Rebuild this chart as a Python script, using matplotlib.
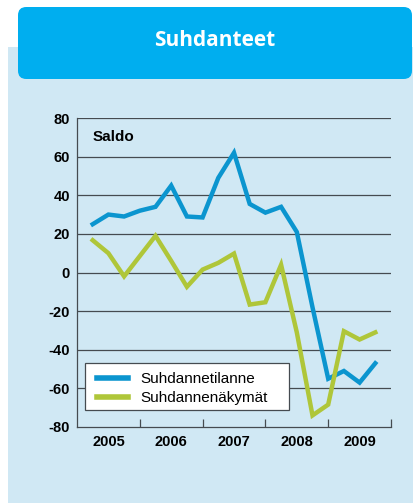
import numpy as np
import matplotlib.pyplot as plt
from matplotlib.patches import FancyBboxPatch, Rectangle

# Data: quarterly saldo, 2005Q1 .. 2009Q3
vuodet = ["2005", "2006", "2007", "2008", "2009"]
suhdannetilanne = [25, 30, 29, 32, 34, 45, 29, 28.5, 49, 62,
                   35.5, 31, 34, 21, -18, -55, -51, -57, -47]
suhdannenakymat = [16.7, 10, -2, 8.5, 19, 6, -7.4, 1.5, 5, 9.8,
                   -16.6, -15.4, 4, -31, -74, -68.4, -30.4, -34.7, -31]
y_ticks = [80, 60, 40, 20, 0, -20, -40, -60, -80]

sininen = "#0b95cf"
vihrea = "#afc639"
paneeli = "#d0e8f4"
harmaa = "#454b50"

plt.rcParams['font.family'] = ['Liberation Sans', 'DejaVu Sans']

fig = plt.figure(figsize=(4.14, 5.03), dpi=100)
W, H = 414, 503

# taustapaneeli ja otsikkolaatikko
fig.patches.append(Rectangle((8 / W, 0), 1, 1 - 47 / H, transform=fig.transFigure,
                             facecolor=paneeli, edgecolor="none", zorder=-3))
fig.patches.append(FancyBboxPatch((18 / W, 1 - 79 / H), (412 - 18) / W, 72 / H,
                                  boxstyle="round,pad=0,rounding_size=0.02",
                                  transform=fig.transFigure, facecolor="#00aeef",
                                  edgecolor="none", zorder=-2,
                                  mutation_aspect=W / H))
fig.text(215 / W, 1 - 41 / H, "Suhdanteet", color="white", fontsize=15,
         fontweight="bold", family="Open Sans", ha="center", va="center")

ax = fig.add_axes([77 / W, 1 - 427 / H, 314 / W, 309 / H])
ax.set_facecolor("none")

x = np.arange(1, len(suhdannetilanne) + 1)
ax.plot(x, suhdannetilanne, color=sininen, lw=3.2, label="Suhdannetilanne",
        solid_joinstyle="miter", zorder=3)
ax.plot(x, suhdannenakymat, color=vihrea, lw=3.2, label="Suhdannenäkymät",
        solid_joinstyle="miter", zorder=3)

ax.set_xlim(0, 4 * len(vuodet))
ax.set_ylim(-80, 80)
ax.set_yticks(y_ticks)
ax.set_yticklabels([str(v) for v in y_ticks], fontweight="bold", fontsize=10.5)
for v in y_ticks[:-1]:
    ax.axhline(v, color=harmaa, lw=0.9, zorder=1)

ax.set_xticks(np.arange(0, 4 * len(vuodet) + 1, 4)[1:])
ax.set_xticklabels([])
ax.set_xticks(np.arange(2, 4 * len(vuodet), 4), minor=True)
ax.set_xticklabels(vuodet, minor=True, fontweight="bold", fontsize=10.5)
ax.tick_params(axis="x", which="major", direction="in", length=6, width=0.9, color=harmaa)
ax.tick_params(axis="x", which="minor", length=0, pad=6)
ax.tick_params(axis="y", length=0, pad=5)

for s in ["top", "right"]:
    ax.spines[s].set_visible(False)
for s in ["left", "bottom"]:
    ax.spines[s].set_color(harmaa)
    ax.spines[s].set_linewidth(0.9)

ax.text(0.05, 0.937, "Saldo", transform=ax.transAxes, fontweight="bold",
        fontsize=11, va="center")

# selitteen kehys erikseen, selite ilman omaa kehystä
ax.add_patch(Rectangle((0.0255, 0.055), 0.65, 0.152, transform=ax.transAxes,
                       facecolor="white", edgecolor=harmaa, lw=0.9, zorder=4))
leg = ax.legend(loc="upper left", bbox_to_anchor=(0.064, 0.178),
                borderaxespad=0, borderpad=0, frameon=False, fontsize=11,
                handlelength=2.0, handletextpad=0.8, labelspacing=0.35)
leg.set_zorder(5)
for line in leg.get_lines():
    line.set_linewidth(4)

fig.savefig("out.png", dpi=100)
